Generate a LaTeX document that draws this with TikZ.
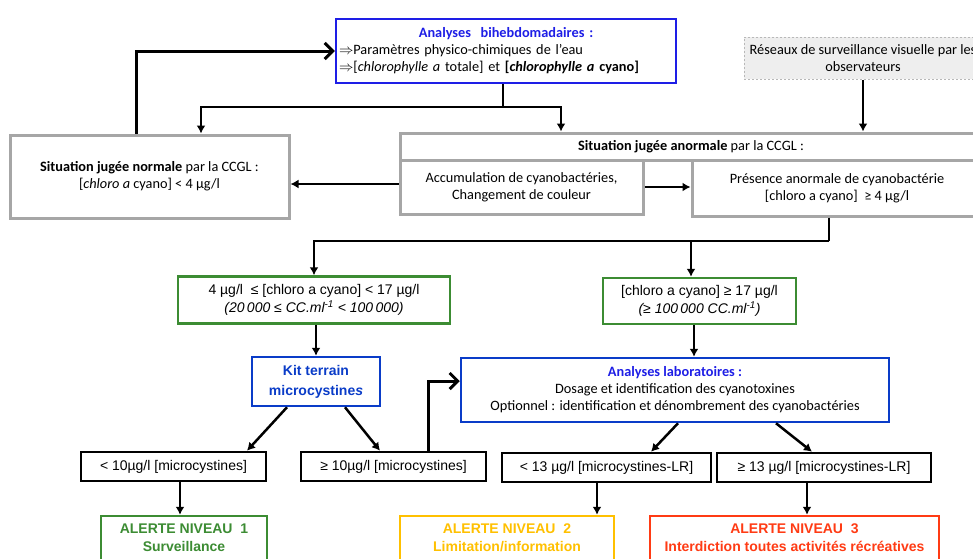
\documentclass[tikz,border=0pt]{standalone}
\usepackage{fontspec}
\setmainfont{Carlito}
\newfontfamily\arialf{Liberation Sans}
\usepackage{tikz}
\usetikzlibrary{arrows.meta,positioning}

\definecolor{anablue}{HTML}{1E1EE6}
\definecolor{labblue}{HTML}{0A3CC8}
\definecolor{alertgreen}{HTML}{3C8C33}
\definecolor{alertyellow}{HTML}{FFC000}
\definecolor{alertred}{HTML}{FF3B14}
\definecolor{boxgray}{HTML}{A6A6A6}
\definecolor{resfill}{HTML}{EEEEEE}

\begin{document}
\begin{tikzpicture}[
  x=1pt,y=-1pt,
  cal/.style={font=\fontsize{14.3}{17}\selectfont},
  ari/.style={font=\arialf\fontsize{14}{18}\selectfont},
  gbox/.style={draw=boxgray,line width=3pt,fill=white,align=center,cal,
               minimum width=#1},
  cbox/.style={draw=#1,line width=2.5pt,fill=white,align=center,inner sep=2pt},
  alert/.style={cbox=#1,text=#1,font=\arialf\bfseries\fontsize{14}{18}\selectfont,
                minimum height=44pt},
  arr/.style={-{Latex[length=8pt,width=9pt]},line width=2.5pt},
  oarr/.style={-{Straight Barb[length=8pt,width=16pt]},line width=3pt},
  link/.style={line width=2.5pt}
]
\useasboundingbox (0,0) rectangle (973,558);
\clip (0,0) rectangle (973,558);

% top row
\node[cbox=anablue,cal,align=left,text width=334pt,inner xsep=3pt,
      minimum height=64pt] (ana) at (506,51)
  {\makebox[334pt]{\color{anablue}\bfseries Analyses\ \ bihebdomadaires :}\\
   $\Rightarrow$Paramètres physico-chimiques de l’eau\\
   $\Rightarrow$[\textit{chlorophylle a} totale] et \textbf{[\textit{chlorophylle a} cyano]}};
\node[draw=boxgray!80,dashed,dash pattern=on 2pt off 2pt,line width=1pt,fill=resfill,
      cal,align=center,minimum width=238pt,minimum height=42pt] (res) at (863,58)
  {Réseaux de surveillance visuelle par les\\observateurs};

% situations
\node[gbox=279pt,minimum height=83pt] (norm) at (149.5,176.5)
  {\textbf{Situation jugée normale} par la CCGL :\\{}%
   [\textit{chloro a} cyano] < 4 µg/l};
\node[gbox=582pt,minimum height=27pt] (anortit) at (691,146.5)
  {\textbf{Situation jugée anormale} par la CCGL :};
\node[gbox=243pt,minimum height=54pt] (acc) at (521.5,187)
  {Accumulation de cyanobactéries,\\Changement de couleur};
\node[gbox=290pt,minimum height=56pt] (pres) at (837,188)
  {Présence anormale de cyanobactérie\\{}[chloro a cyano]\ \ ≥ 4 µg/l};

% seuils chlorophylle
\node[cbox=alertgreen,ari,minimum width=272pt,minimum height=47pt] (g1) at (314,300)
  {4 µg/l\ \ ≤ [chloro a cyano] < 17 µg/l\\
   \textit{(20\,000 ≤ CC.ml\textsuperscript{-1} < 100\,000)}};
\node[cbox=alertgreen,ari,minimum width=193pt,minimum height=46pt] (g2) at (699.5,301)
  {{}[chloro a cyano] ≥ 17 µg/l\\
   \textit{(≥ 100\,000 CC.ml\textsuperscript{-1})}};

% analyses
\node[cbox=labblue,ari,font=\arialf\bfseries\fontsize{14}{20}\selectfont,text=labblue,
      minimum width=128pt,minimum height=49pt] (kit) at (316,381.5)
  {Kit terrain\\microcystine\textit{s}};
\node[cbox=labblue,cal,minimum width=428pt,minimum height=64pt] (lab) at (675,390)
  {\textcolor{anablue}{\bfseries Analyses laboratoires :}\\
   Dosage et identification des cyanotoxines\\
   Optionnel : identification et dénombrement des cyanobactéries};

% seuils microcystines
\node[cbox=black,ari,minimum width=185pt,minimum height=29pt] (lt10) at (173.5,466.5)
  {< 10µg/l [microcystines]};
\node[cbox=black,ari,minimum width=185pt,minimum height=29pt] (ge10) at (393.5,466.5)
  {≥ 10µg/l [microcystines]};
\node[cbox=black,ari,minimum width=209pt,minimum height=29pt] (lt13) at (606.5,467.5)
  {< 13 µg/l [microcystines-LR]};
\node[cbox=black,ari,minimum width=214pt,minimum height=29pt] (ge13) at (824,467.5)
  {≥ 13 µg/l [microcystines-LR]};

% alertes
\node[alert=alertgreen,minimum width=166pt] (al1) at (184,538)
  {ALERTE NIVEAU\ \ 1\\Surveillance};
\node[alert=alertyellow,minimum width=214pt] (al2) at (507,538)
  {ALERTE NIVEAU\ \ 2\\Limitation/information};
\node[alert=alertred,minimum width=289pt] (al3) at (794.5,538)
  {ALERTE NIVEAU\ \ 3\\Interdiction toutes activités récréatives};

% connecteurs du haut
\coordinate (split1) at (503,107);
\draw[link] (ana.south -| split1) -- (split1);
\draw[arr] (split1) -| ([xshift=51.5pt]norm.north);
\draw[arr] (split1) -| ([xshift=-130pt]anortit.north);
\draw[oarr] ([xshift=-13.5pt]norm.north) |- (ana.west);
\draw[arr] (res.south) -- (res.south |- anortit.north);
\draw[arr] ([yshift=3pt]acc.west) -- ([yshift=3pt]acc.west -| norm.east);
\draw[arr] (acc.east) -- (acc.east -| pres.west);

% vers les seuils
\coordinate (split2) at (829,241);
\draw[link] (pres.south -| split2) -- (split2);
\draw[arr] (split2) -| (g1.north);
\draw[arr] (split2) -| ([xshift=-8.5pt]g2.north);
\draw[arr] (g1.south -| kit.north) -- (kit.north);
\draw[arr] ([xshift=-5.5pt]g2.south) -- ([xshift=-5.5pt]g2.south |- lab.north);

% vers les microcystines
\draw[arr] ([xshift=-29pt]kit.south) -- ([xshift=73.5pt]lt10.north);
\draw[arr] ([xshift=29pt]kit.south) -- ([xshift=-13.5pt]ge10.north);
\draw[oarr] ([xshift=34.5pt]ge10.north) |- ([yshift=9pt]lab.west);
\draw[arr] ([xshift=3pt]lab.south) -- ([xshift=44.5pt]lt13.north);
\draw[arr] ([xshift=101pt]lab.south) -- ([xshift=-12pt]ge13.north);

% vers les alertes
\draw[arr] ([xshift=6.5pt]lt10.south) -- ([xshift=6.5pt]lt10.south |- al1.north);
\draw[arr] ([xshift=-9.5pt]lt13.south) -- ([xshift=-9.5pt]lt13.south |- al2.north);
\draw[arr] ([xshift=-17pt]ge13.south) -- ([xshift=-17pt]ge13.south |- al3.north);
\end{tikzpicture}
\end{document}
